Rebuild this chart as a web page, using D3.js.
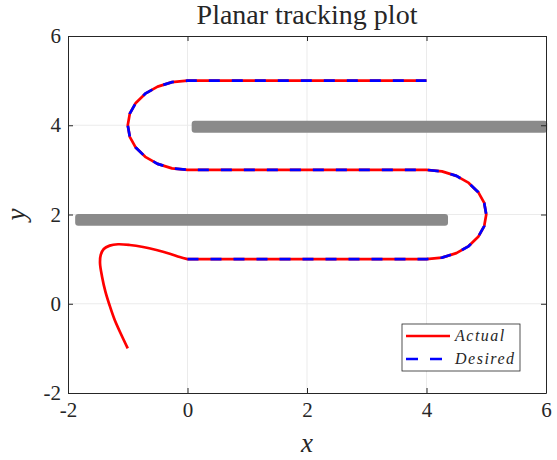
<!DOCTYPE html>
<html>
<head>
<meta charset="utf-8">
<script src="https://cdn.jsdelivr.net/npm/d3@7"></script>
<style>
  body { margin: 0; background: #fff; }
  svg text { font-family: "Liberation Serif", serif; fill: #262626; }
</style>
</head>
<body>
<script>
// desired path: straight legs joined by two half circles
const desiredX = [0, 4, 4.259, 4.5, 4.707, 4.866, 4.966, 5, 4.966, 4.866, 4.707, 4.5, 4.259, 4,
  0, -0.259, -0.5, -0.707, -0.866, -0.966, -1, -0.966, -0.866, -0.707, -0.5, -0.259, 0, 4];
const desiredY = [1, 1, 1.034, 1.134, 1.293, 1.5, 1.741, 2, 2.259, 2.5, 2.707, 2.866, 2.966, 3,
  3, 3.034, 3.134, 3.293, 3.5, 3.741, 4, 4.259, 4.5, 4.707, 4.866, 4.966, 5, 5];

// actual path until it joins the desired one at (0,1)
const approachX = [-1, -1.106, -1.218, -1.302, -1.374, -1.43, -1.464, -1.452, -1.402, -1.302,
  -1.163, -0.967, -0.744, -0.52, -0.297, -0.13, 0];
const approachY = [-1, -0.70, -0.364, -0.043, 0.271, 0.607, 0.907, 1.093, 1.228, 1.302,
  1.333, 1.317, 1.272, 1.205, 1.122, 1.048, 1];

// obstacles [x0, x1, y0, y1]
const obstacles = [
  [-1.88, 4.36, 1.75, 2.01],
  [0.07, 6.02, 3.83, 4.10]
];

const tickValues = [-2, 0, 2, 4, 6];
const tickLabels = ['-2', '0', '2', '4', '6'];

const W = 557, H = 460;
const pLeft = 68, pRight = 546, pTop = 36, pBottom = 393;

document.addEventListener('DOMContentLoaded', function () {
  const x = d3.scaleLinear().domain([-2, 6]).range([pLeft, pRight]);
  const y = d3.scaleLinear().domain([-2, 6]).range([pBottom, pTop]);

  const svg = d3.select('body').append('svg')
    .attr('width', W)
    .attr('height', H);

  // grid
  const grid = svg.append('g').attr('stroke', '#ebebeb').attr('stroke-width', 1);
  grid.selectAll('.gx').data(tickValues.slice(1, -1)).enter().append('line')
    .attr('x1', d => x(d)).attr('x2', d => x(d))
    .attr('y1', pTop).attr('y2', pBottom);
  grid.selectAll('.gy').data(tickValues.slice(1, -1)).enter().append('line')
    .attr('y1', d => y(d)).attr('y2', d => y(d))
    .attr('x1', pLeft).attr('x2', pRight);

  // obstacles
  svg.selectAll('.obs').data(obstacles).enter().append('rect')
    .attr('x', d => x(d[0]))
    .attr('width', d => x(d[1]) - x(d[0]))
    .attr('y', d => y(d[3]))
    .attr('height', d => y(d[2]) - y(d[3]))
    .attr('rx', 3)
    .attr('fill', '#8a8a8a');

  const desired = desiredX.map((d, i) => [d, desiredY[i]]);
  const approach = approachX.map((d, i) => [d, approachY[i]]);

  const smooth = d3.line()
    .x(d => x(d[0]))
    .y(d => y(d[1]))
    .curve(d3.curveCatmullRom.alpha(0.5));
  const straight = d3.line()
    .x(d => x(d[0]))
    .y(d => y(d[1]));

  // actual: approach curve, then along the desired path
  svg.append('path')
    .attr('d', smooth(approach) + straight(desired).replace(/^M/, 'L'))
    .attr('fill', 'none')
    .attr('stroke', '#ff0000')
    .attr('stroke-width', 2.7)
    .attr('stroke-linejoin', 'round');

  svg.append('path')
    .attr('d', straight(desired))
    .attr('fill', 'none')
    .attr('stroke', '#0000ff')
    .attr('stroke-width', 2.7)
    .attr('stroke-dasharray', '11,12');

  // axes with inward ticks on all four sides
  const fmt = (d, i) => tickLabels[i];
  const axes = [
    svg.append('g').attr('transform', `translate(0,${pBottom})`)
      .call(d3.axisBottom(x).tickValues(tickValues).tickFormat(fmt).tickSizeInner(-5).tickSizeOuter(0).tickPadding(9)),
    svg.append('g').attr('transform', `translate(0,${pTop})`)
      .call(d3.axisTop(x).tickValues(tickValues).tickFormat('').tickSizeInner(-5).tickSizeOuter(0)),
    svg.append('g').attr('transform', `translate(${pLeft},0)`)
      .call(d3.axisLeft(y).tickValues(tickValues).tickFormat(fmt).tickSizeInner(-5).tickSizeOuter(0).tickPadding(7)),
    svg.append('g').attr('transform', `translate(${pRight},0)`)
      .call(d3.axisRight(y).tickValues(tickValues).tickFormat('').tickSizeInner(-5).tickSizeOuter(0))
  ];
  axes.forEach(a => {
    a.select('.domain').attr('stroke', '#262626').attr('stroke-width', 1);
    a.selectAll('.tick line').attr('stroke', '#262626');
    a.selectAll('.tick text')
      .style('font-family', '"Liberation Serif", serif')
      .style('font-size', '21px')
      .attr('fill', '#262626');
  });

  // title and axis labels
  svg.append('text')
    .attr('x', (pLeft + pRight) / 2).attr('y', 24)
    .attr('text-anchor', 'middle')
    .style('font-size', '28px')
    .text('Planar tracking plot');

  svg.append('text')
    .attr('x', (pLeft + pRight) / 2).attr('y', 452)
    .attr('text-anchor', 'middle')
    .style('font-size', '27px')
    .style('font-style', 'italic')
    .text('x');

  svg.append('text')
    .attr('transform', `translate(25,${(pTop + pBottom) / 2}) rotate(-90)`)
    .attr('text-anchor', 'middle')
    .style('font-size', '27px')
    .style('font-style', 'italic')
    .text('y');

  // legend
  const lg = svg.append('g');
  lg.append('rect')
    .attr('x', 402).attr('y', 324).attr('width', 118).attr('height', 47)
    .attr('fill', '#fff').attr('stroke', '#262626').attr('stroke-width', 0.8);
  const items = [
    { name: 'Actual', color: '#ff0000', dash: null },
    { name: 'Desired', color: '#0000ff', dash: '12,12' }
  ];
  items.forEach((it, i) => {
    const yy = 336 + i * 23;
    lg.append('line')
      .attr('x1', 406).attr('x2', 450).attr('y1', yy).attr('y2', yy)
      .attr('stroke', it.color).attr('stroke-width', 2.7)
      .attr('stroke-dasharray', it.dash);
    lg.append('text')
      .attr('x', 455).attr('y', yy + 5)
      .style('font-size', '16px')
      .style('font-style', 'italic')
      .style('letter-spacing', '1.5px')
      .text(it.name);
  });
});
</script>
</body>
</html>
